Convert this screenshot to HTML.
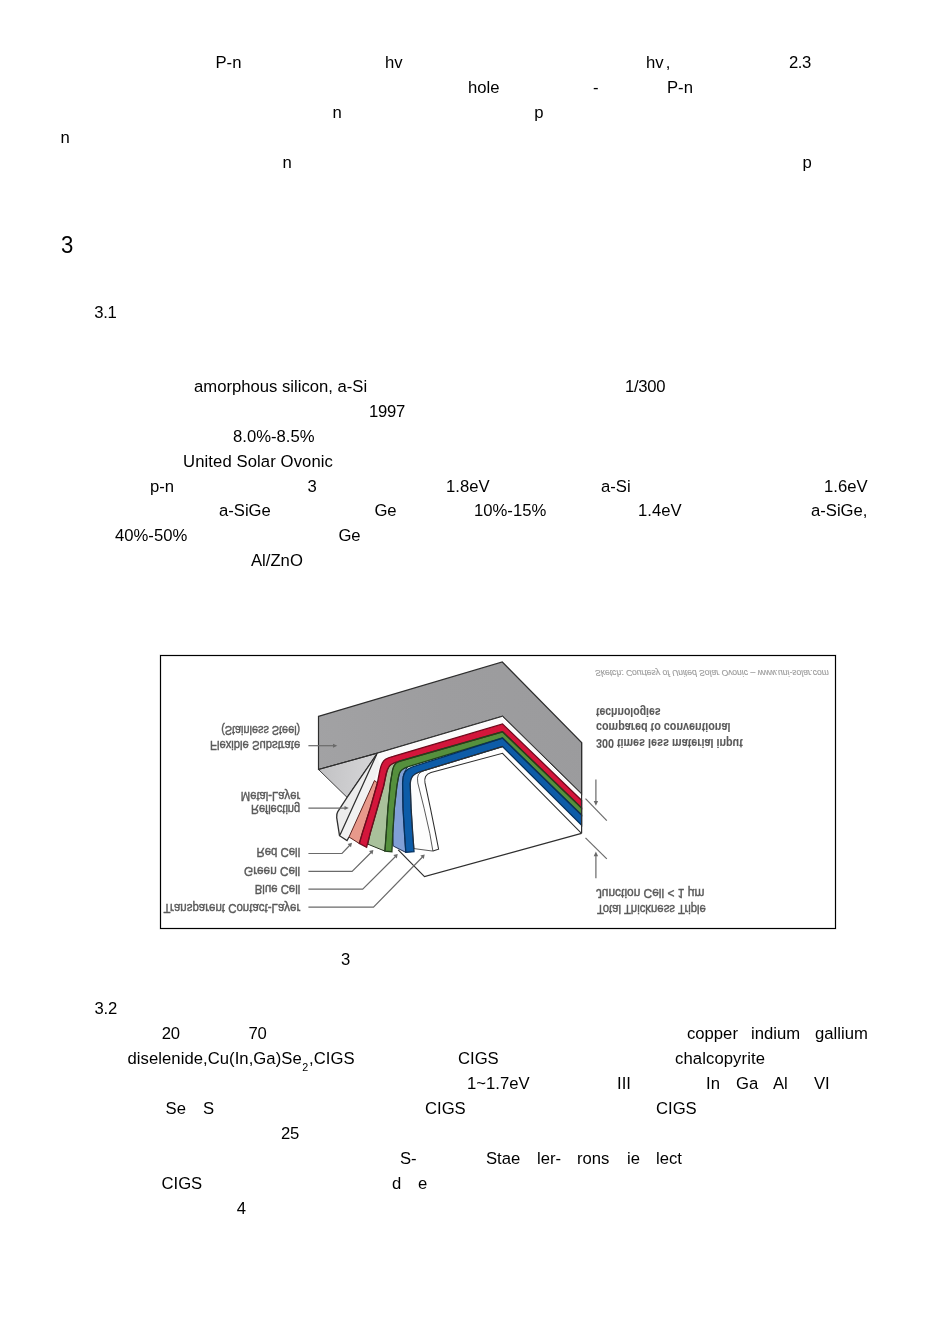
<!DOCTYPE html>
<html><head><meta charset="utf-8"><title>page</title>
<style>
html,body{margin:0;padding:0;background:#fff;}
body{width:950px;height:1344px;position:relative;overflow:hidden;font-family:"Liberation Sans",sans-serif;color:#000;}
.t{position:absolute;white-space:nowrap;font-size:16.67px;line-height:19px;}
.t sub{font-size:10.7px;vertical-align:baseline;position:relative;top:6.5px;line-height:0;margin:0 0.9px 0 0.4px;letter-spacing:0;}
#txt{position:absolute;left:0;top:0;width:950px;height:1344px;will-change:transform;}
#fig{position:absolute;left:0;top:0;width:950px;height:1344px;}
</style></head><body>
<svg id="fig" viewBox="0 0 950 1344" width="950" height="1344" font-family="Liberation Sans, sans-serif">
<defs>
<linearGradient id="gslab" x1="318" y1="770" x2="582" y2="700" gradientUnits="userSpaceOnUse"><stop offset="0" stop-color="#a2a2a4"/><stop offset="0.5" stop-color="#9d9d9f"/><stop offset="1" stop-color="#9b9b9d"/></linearGradient>
<linearGradient id="gtri" x1="320" y1="770" x2="365" y2="775" gradientUnits="userSpaceOnUse"><stop offset="0" stop-color="#c2c2c4"/><stop offset="1" stop-color="#d2d2d4"/></linearGradient>
<filter id="soft" x="-2%" y="-2%" width="104%" height="104%"><feGaussianBlur stdDeviation="0.45"/></filter>
</defs>
<g filter="url(#soft)">
<polygon points="318.5,716.3 502.3,662.0 581.6,742.5 581.6,794.0 502.5,716.3 377.4,753.2 318.5,769.5" fill="url(#gslab)" stroke="#2e2e2e" stroke-width="1.2"/>
<polygon points="318.5,769.5 377.4,753.2 347.1,797.4" fill="url(#gtri)" stroke="#2e2e2e" stroke-width="0.9"/>
<polygon points="581.5,833.3 424.5,876.7 398.2,849.8 440.0,760.0 502.5,746.6" fill="#fff" stroke="none"/>
<polyline points="581.5,833.3 424.5,876.7 398.2,849.8" fill="none" stroke="#2e2e2e" stroke-width="1.2"/>
<path d="M377.4,753.2 L347.1,797.4 L337.8,811.6 Q336.3,814 336.7,817.6 L339.5,835.7 L340.7,833.4 L376.6,754.6 Z" fill="#ececec" stroke="none"/>
<path d="M376.6,754.6 L340.7,833.4 L339.5,835.7 L347,840.6 L349,837 L374.5,780.5 L377.4,782.9 L379.9,770.3 Q381.6,762 385.5,759.3 Q388,757.6 393.2,756.3 L502.5,723.9 L581.6,800.3 L581.6,794 L502.5,716.3 L377.4,753.2 Z" fill="#fbfbfb" stroke="none"/>
<path d="M376.6,754.6 L340.7,833.4 L339.5,835.7 L347,840.6 L349,837 L374.5,780.5 L380,765 Z" fill="#f2f2f2" stroke="none"/>
<path d="M374.5,780.5 L349,837 L359.3,843.5 L362.2,833.4 L370.2,808.2 L377.4,782.9 Z" fill="#e8998b" stroke="none"/>
<path d="M359.3,843.5 L362.2,833.4 L370.2,808.2 L377.4,782.9 L379.9,770.3 Q381.6,762 385.5,759.3 Q388,757.6 393.2,756.3 L502.5,723.9 L581.6,800.3 L581.6,808 L502.5,731.8 L398,761.6 Q390.5,763.6 388.8,767 Q387,770 386.2,774 L383.7,786 L377.4,808.2 L370.2,833.4 L366.6,847.3 Z" fill="#d3123a" stroke="none"/>
<path d="M396.5,762 Q390.5,763.6 388.8,767 Q387,770 386.2,774 L383.7,786 L377.4,808.2 L370.2,833.4 L367.9,844.2 L384.9,851.1 L386.2,833.4 L387.9,808.2 L390.4,782.9 L392.5,770.3 Q393.5,765 396.5,762 Z" fill="#a9c19b" stroke="none"/>
<path d="M384.9,851.1 L386.2,833.4 L387.9,808.2 L390.4,782.9 L392.5,770.3 Q393.6,764.8 397.5,762.3 Q399.5,761.2 402,760.5 L502.5,731.8 L581.6,808 L581.6,815 L502.5,738.1 L410,766.2 Q402.6,768.4 400.4,771.5 Q398.8,774 398.3,778 L396.9,786 L394.4,808.2 L392.8,833.4 L391.9,851.7 Z" fill="#54903e" stroke="none"/>
<path d="M407.5,767 Q402.6,768.4 400.4,771.5 Q398.8,774 398.3,778 L396.9,786 L394.4,808.2 L392.8,833.4 L393.2,846 L405.8,852.4 L404.5,833.4 L403,808.2 L402.6,782.9 Q402.8,775.5 404.4,772.5 Q405.7,769.5 407.5,767 Z" fill="#809fd6" stroke="none"/>
<path d="M405.8,852.4 L404.5,833.4 L403,808.2 L402.6,782.9 Q402.8,775.3 405.2,771.8 Q407.4,768.6 412.1,767 L502.5,738.1 L581.6,815 L581.6,825.2 L502.5,746.6 L421,771.5 Q414.5,773.5 412.3,776.5 Q410.3,779.5 410.2,784 L411.1,808.2 L412.7,833.4 L414,851.7 Z" fill="#0b5ba8" stroke="none"/>
<path d="M414,848.6 L432.9,851.1 L429.8,833.4 L424.1,808.2 L417.8,782.9 Q416.9,777.5 418.3,774.8 Q419.6,772.3 423,771 L502.5,746.6 L421,771.5 Q414.5,773.5 412.3,776.5 Q410.3,779.5 410.2,784 L411.1,808.2 L412.7,833.4 Z" fill="#fdfdfd" stroke="none"/>
<path d="M374.5,780.5 L349,837 L359.3,843.5 L362.2,833.4 L370.2,808.2 L377.4,782.9 Z" fill="none" stroke="#5a221e" stroke-width="1.0"/>
<path d="M396.5,762 Q390.5,763.6 388.8,767 Q387,770 386.2,774 L383.7,786 L377.4,808.2 L370.2,833.4 L367.9,844.2 L384.9,851.1 L386.2,833.4 L387.9,808.2 L390.4,782.9 L392.5,770.3 Q393.5,765 396.5,762 Z" fill="none" stroke="#26321f" stroke-width="1.0"/>
<path d="M407.5,767 Q402.6,768.4 400.4,771.5 Q398.8,774 398.3,778 L396.9,786 L394.4,808.2 L392.8,833.4 L393.2,846 L405.8,852.4 L404.5,833.4 L403,808.2 L402.6,782.9 Q402.8,775.5 404.4,772.5 Q405.7,769.5 407.5,767 Z" fill="none" stroke="#1d2d52" stroke-width="1.0"/>
<path d="M359.3,843.5 L362.2,833.4 L370.2,808.2 L377.4,782.9 L379.9,770.3 Q381.6,762 385.5,759.3 Q388,757.6 393.2,756.3 L502.5,723.9 L581.6,800.3 L581.6,808 L502.5,731.8 L398,761.6 Q390.5,763.6 388.8,767 Q387,770 386.2,774 L383.7,786 L377.4,808.2 L370.2,833.4 L366.6,847.3 Z" fill="none" stroke="#6d0a1c" stroke-width="1.3"/>
<path d="M384.9,851.1 L386.2,833.4 L387.9,808.2 L390.4,782.9 L392.5,770.3 Q393.6,764.8 397.5,762.3 Q399.5,761.2 402,760.5 L502.5,731.8 L581.6,808 L581.6,815 L502.5,738.1 L410,766.2 Q402.6,768.4 400.4,771.5 Q398.8,774 398.3,778 L396.9,786 L394.4,808.2 L392.8,833.4 L391.9,851.7 Z" fill="none" stroke="#23421a" stroke-width="1.3"/>
<path d="M405.8,852.4 L404.5,833.4 L403,808.2 L402.6,782.9 Q402.8,775.3 405.2,771.8 Q407.4,768.6 412.1,767 L502.5,738.1 L581.6,815 L581.6,825.2 L502.5,746.6 L421,771.5 Q414.5,773.5 412.3,776.5 Q410.3,779.5 410.2,784 L411.1,808.2 L412.7,833.4 L414,851.7 Z" fill="none" stroke="#06315e" stroke-width="1.3"/>
<path d="M414,848.6 L432.9,851.1 L429.8,833.4 L424.1,808.2 L417.8,782.9 Q416.9,777.5 418.3,774.8 Q419.6,772.3 423,771 L502.5,746.6 L421,771.5 Q414.5,773.5 412.3,776.5 Q410.3,779.5 410.2,784 L411.1,808.2 L412.7,833.4 Z" fill="none" stroke="#2e2e2e" stroke-width="0.8"/>
<path d="M377.4,753.2 L347.1,797.4 L337.8,811.6 Q336.3,814 336.7,817.6 L339.5,835.7 L347,840.6 L349,837" fill="none" stroke="#2e2e2e" stroke-width="1.3"/>
<path d="M376.6,754.6 L340.7,833.4 L339.5,835.7" fill="none" stroke="#2e2e2e" stroke-width="1.25"/>
<path d="M318.5,769.5 L377.4,753.2 L502.5,716.3 L581.6,794" fill="none" stroke="#2e2e2e" stroke-width="1"/>
<path d="M432.9,851.1 L438.6,849.2 L435.5,833.4 L430.4,808.2 L425,782.9 Q424.3,779 425.6,776.4 Q427,773.8 431,772.6 L502.5,753.3 L581.5,833.3" fill="none" stroke="#2e2e2e" stroke-width="1.05"/>
<path d="M581.6,742.5 L581.6,833.3" fill="none" stroke="#2e2e2e" stroke-width="1.2"/>
<g stroke="#6a6a6a" stroke-width="1.2" fill="none"><path d="M595.9,779.6 L595.9,803"/><path d="M585.5,798.7 L606.8,820.6"/><path d="M585.5,837.9 L606.8,858.9"/><path d="M595.9,878.2 L595.9,854.5"/></g>
<g fill="#6a6a6a"><polygon points="593.7,801 598.1,801 595.9,805.8"/><polygon points="593.7,856.2 598.1,856.2 595.9,851.4"/></g>
<g stroke="#6a6a6a" stroke-width="1.2" fill="none"><path d="M308.4,745.7 L334,745.7"/><path d="M308.4,808.1 L345.5,808.1"/><path d="M308.4,853.5 L342,853.5 L350,845"/><path d="M308.4,871.4 L352.1,871.4 L371.3,852.3"/><path d="M308.4,889.2 L362.7,889.2 L395.5,856.5"/><path d="M308.4,907.2 L373.5,907.2 L422.5,857"/></g>
<g fill="#6a6a6a"><polygon points="333,743.7 337.3,745.7 333,747.7"/><polygon points="344.5,806.1 348.8,808.1 344.5,810.1"/><polygon points="347.6,844 352,842.8 351,847.3"/><polygon points="369,851 373.4,850 372.5,854.4"/><polygon points="393.3,855 397.7,854 396.8,858.4"/><polygon points="420.3,855.6 424.7,854.6 423.8,859"/></g>
<text transform="translate(300.2,726.0) scale(1,-1)" font-size="13.7" text-anchor="end" font-weight="normal" font-style="normal" fill="#5a5a5a" stroke="#5a5a5a" stroke-width="0.45" textLength="79" lengthAdjust="spacingAndGlyphs">(Stainless Steel)</text>
<text transform="translate(300.2,741.0) scale(1,-1)" font-size="13.7" text-anchor="end" font-weight="normal" font-style="normal" fill="#5a5a5a" stroke="#5a5a5a" stroke-width="0.45" textLength="90.2" lengthAdjust="spacingAndGlyphs">Flexible Substrate</text>
<text transform="translate(300.2,791.5) scale(1,-1)" font-size="13.7" text-anchor="end" font-weight="normal" font-style="normal" fill="#5a5a5a" stroke="#5a5a5a" stroke-width="0.45" textLength="59.4" lengthAdjust="spacingAndGlyphs">Metal-Layer</text>
<text transform="translate(300.2,804.9) scale(1,-1)" font-size="13.7" text-anchor="end" font-weight="normal" font-style="normal" fill="#5a5a5a" stroke="#5a5a5a" stroke-width="0.45" textLength="49.3" lengthAdjust="spacingAndGlyphs">Reflecting</text>
<text transform="translate(300.2,848.4) scale(1,-1)" font-size="13.7" text-anchor="end" font-weight="normal" font-style="normal" fill="#5a5a5a" stroke="#5a5a5a" stroke-width="0.45" textLength="43.8" lengthAdjust="spacingAndGlyphs">Red Cell</text>
<text transform="translate(300.2,866.9) scale(1,-1)" font-size="13.7" text-anchor="end" font-weight="normal" font-style="normal" fill="#5a5a5a" stroke="#5a5a5a" stroke-width="0.45" textLength="56.2" lengthAdjust="spacingAndGlyphs">Green Cell</text>
<text transform="translate(300.2,885.1) scale(1,-1)" font-size="13.7" text-anchor="end" font-weight="normal" font-style="normal" fill="#5a5a5a" stroke="#5a5a5a" stroke-width="0.45" textLength="45.4" lengthAdjust="spacingAndGlyphs">Blue Cell</text>
<text transform="translate(300.2,904.3) scale(1,-1)" font-size="13.7" text-anchor="end" font-weight="normal" font-style="normal" fill="#5a5a5a" stroke="#5a5a5a" stroke-width="0.45" textLength="136.7" lengthAdjust="spacingAndGlyphs">Transparent Contact-Layer</text>
<text transform="translate(595.9,708.0) scale(1,-1)" font-size="13.7" text-anchor="start" font-weight="bold" font-style="normal" fill="#5a5a5a" stroke="#5a5a5a" stroke-width="0.1" textLength="64.8" lengthAdjust="spacingAndGlyphs">technologies</text>
<text transform="translate(595.9,723.0) scale(1,-1)" font-size="13.7" text-anchor="start" font-weight="bold" font-style="normal" fill="#5a5a5a" stroke="#5a5a5a" stroke-width="0.1" textLength="134.6" lengthAdjust="spacingAndGlyphs">compared to conventional</text>
<text transform="translate(595.9,738.6) scale(1,-1)" font-size="13.7" text-anchor="start" font-weight="bold" font-style="normal" fill="#5a5a5a" stroke="#5a5a5a" stroke-width="0.1" textLength="146.9" lengthAdjust="spacingAndGlyphs">300 times less material input</text>
<text transform="translate(595.9,888.6) scale(1,-1)" font-size="13.7" text-anchor="start" font-weight="normal" font-style="normal" fill="#5a5a5a" stroke="#5a5a5a" stroke-width="0.45" textLength="108.6" lengthAdjust="spacingAndGlyphs">Junction Cell &lt; 1 &#181;m</text>
<text transform="translate(597,904.6) scale(1,-1)" font-size="13.7" text-anchor="start" font-weight="normal" font-style="normal" fill="#5a5a5a" stroke="#5a5a5a" stroke-width="0.45" textLength="108.9" lengthAdjust="spacingAndGlyphs">Total Thickness Triple</text>
<text transform="translate(595,670.2) scale(1,-1)" font-size="9.5" text-anchor="start" font-weight="normal" font-style="italic" fill="#9c9c9c" stroke="#9c9c9c" stroke-width="0.15" textLength="234" lengthAdjust="spacingAndGlyphs">Sketch: Courtesy of United Solar Ovonic &#8211; www.uni-solar.com</text>
</g>
<rect x="160.5" y="655.5" width="675" height="273" fill="none" stroke="#000" stroke-width="1" shape-rendering="crispEdges"/>
<rect x="160.5" y="655.5" width="675" height="273" fill="none" stroke="#000" stroke-opacity="0.25" stroke-width="1.8"/>
</svg>
<div id="txt">
<span class="t" style="left:215.5px;top:53px;">P-n</span>
<span class="t" style="left:385px;top:53px;">hv</span>
<span class="t" style="left:646px;top:53px;">hv<span style="margin-left:2.1px">,</span></span>
<span class="t" style="left:789px;top:53px;letter-spacing:-0.45px;">2.3</span>
<span class="t" style="left:468px;top:78px;">hole</span>
<span class="t" style="left:593px;top:78px;">-</span>
<span class="t" style="left:667px;top:78px;">P-n</span>
<span class="t" style="left:332.5px;top:103px;">n</span>
<span class="t" style="left:534.3px;top:103px;">p</span>
<span class="t" style="left:60.4px;top:128px;">n</span>
<span class="t" style="left:282.4px;top:153px;">n</span>
<span class="t" style="left:802.5px;top:153px;">p</span>
<span class="t" style="left:94.3px;top:303px;letter-spacing:-0.4px;">3.1</span>
<span class="t" style="left:194px;top:377px;">amorphous silicon, a-Si</span>
<span class="t" style="left:625px;top:377px;letter-spacing:-0.3px;">1/300</span>
<span class="t" style="left:369px;top:402px;letter-spacing:-0.28px;">1997</span>
<span class="t" style="left:233px;top:427px;">8.0%-8.5%</span>
<span class="t" style="left:183px;top:452px;letter-spacing:0.1px;">United Solar Ovonic</span>
<span class="t" style="left:150px;top:477px;">p-n</span>
<span class="t" style="left:307.4px;top:477px;">3</span>
<span class="t" style="left:446px;top:477px;">1.8eV</span>
<span class="t" style="left:601px;top:477px;">a-Si</span>
<span class="t" style="left:824px;top:477px;">1.6eV</span>
<span class="t" style="left:219px;top:501px;">a-SiGe</span>
<span class="t" style="left:374.4px;top:501px;">Ge</span>
<span class="t" style="left:474px;top:501px;">10%-15%</span>
<span class="t" style="left:638px;top:501px;">1.4eV</span>
<span class="t" style="left:811px;top:501px;">a-SiGe,</span>
<span class="t" style="left:115px;top:526px;">40%-50%</span>
<span class="t" style="left:338.4px;top:526px;">Ge</span>
<span class="t" style="left:251px;top:551px;">Al/ZnO</span>
<span class="t" style="left:341.1px;top:950px;">3</span>
<span class="t" style="left:94.4px;top:999px;letter-spacing:-0.1px;">3.2</span>
<span class="t" style="left:161.8px;top:1024px;letter-spacing:-0.3px;">20</span>
<span class="t" style="left:248.5px;top:1024px;letter-spacing:-0.3px;">70</span>
<span class="t" style="left:687px;top:1024px;">copper</span>
<span class="t" style="left:751px;top:1024px;">indium</span>
<span class="t" style="left:815px;top:1024px;">gallium</span>
<span class="t" style="left:127.5px;top:1049px;letter-spacing:0.05px;">diselenide,Cu(In,Ga)Se<sub>2</sub>,CIGS</span>
<span class="t" style="left:458px;top:1049px;">CIGS</span>
<span class="t" style="left:675px;top:1049px;letter-spacing:0.1px;">chalcopyrite</span>
<span class="t" style="left:467px;top:1074px;">1~1.7eV</span>
<span class="t" style="left:617px;top:1074px;">III</span>
<span class="t" style="left:706px;top:1074px;">In</span>
<span class="t" style="left:736px;top:1074px;">Ga</span>
<span class="t" style="left:773px;top:1074px;">Al</span>
<span class="t" style="left:814px;top:1074px;">VI</span>
<span class="t" style="left:165.6px;top:1099px;">Se</span>
<span class="t" style="left:203.1px;top:1099px;">S</span>
<span class="t" style="left:425px;top:1099px;">CIGS</span>
<span class="t" style="left:656px;top:1099px;">CIGS</span>
<span class="t" style="left:281px;top:1124px;letter-spacing:-0.3px;">25</span>
<span class="t" style="left:400px;top:1149px;">S-</span>
<span class="t" style="left:486px;top:1149px;">Stae</span>
<span class="t" style="left:537px;top:1149px;">ler-</span>
<span class="t" style="left:577px;top:1149px;">rons</span>
<span class="t" style="left:627px;top:1149px;">ie</span>
<span class="t" style="left:656px;top:1149px;">lect</span>
<span class="t" style="left:161.5px;top:1174px;">CIGS</span>
<span class="t" style="left:392px;top:1174px;">d</span>
<span class="t" style="left:418px;top:1174px;">e</span>
<span class="t" style="left:236.7px;top:1199px;">4</span>
<span class="t" style="left:60.5px;top:231px;font-size:24.2px;line-height:27px;transform:scaleX(0.917);transform-origin:0 0;">3</span>
</div>
</body></html>
